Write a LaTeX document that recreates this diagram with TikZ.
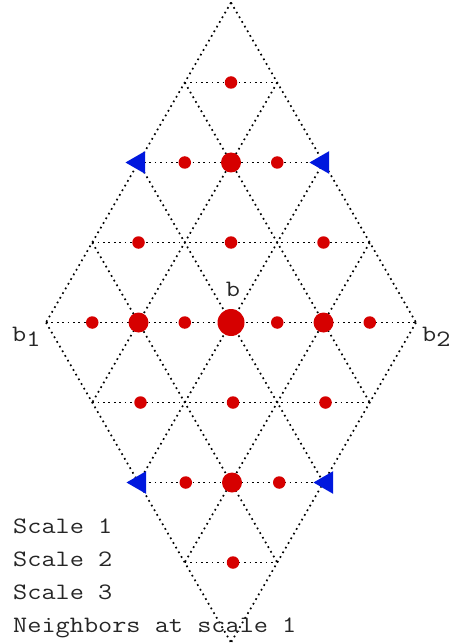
\documentclass[tikz,border=0pt]{standalone}
\usepackage{fontspec}
\newfontfamily\courlike[FakeStretch=1.17]{Latin Modern Mono}
\usetikzlibrary{calc,shapes.geometric}
\definecolor{dotred}{RGB}{214,0,0}
\definecolor{triblue}{RGB}{0,24,222}
\tikzset{
  grid/.style={draw=black, line width=1.7pt, dash pattern=on 1.7pt off 3.7pt},
  small/.style={circle, fill=dotred, inner sep=0pt, minimum size=12.5pt},
  medium/.style={circle, fill=dotred, inner sep=0pt, minimum size=20pt},
  large/.style={circle, fill=dotred, inner sep=0pt, minimum size=27pt},
  nb/.style={isosceles triangle, isosceles triangle apex angle=60, fill=triblue, inner sep=0pt, minimum height=19.5pt, shape border rotate=180},
  lbl/.style={font=\courlike\fontsize{23.5pt}{28pt}\selectfont, text=black!85, inner sep=0pt},
  legend/.style={lbl, anchor=base west}
}
\begin{document}
\begin{tikzpicture}[x=1pt,y=-1pt]
\useasboundingbox (0,0) rectangle (449,644);
\def\cx{231}
\def\cy{322.5}
\def\hw{46.25}
\def\rh{80}
% grid lines: diagonals
\foreach \k in {0,...,4}{
  \coordinate (dlA-\k) at ({\cx+\hw*\k},{\cy-4*\rh+\rh*\k});
  \coordinate (dlB-\k) at ({\cx+\hw*\k-4*\hw},{\cy+\rh*\k});
  \coordinate (drA-\k) at ({\cx-\hw*\k},{\cy-4*\rh+\rh*\k});
  \coordinate (drB-\k) at ({\cx-\hw*\k+4*\hw},{\cy+\rh*\k});
  \draw[grid] (dlA-\k) -- (dlB-\k);
  \draw[grid] (drA-\k) -- (drB-\k);
}
% horizontal lines
\foreach \k/\m in {1/1,2/2,3/3,4/4,5/3,6/2,7/1}{
  \coordinate (hL-\k) at ({\cx-\hw*\m},{\cy-4*\rh+\rh*\k});
  \coordinate (hR-\k) at ({\cx+\hw*\m},{\cy-4*\rh+\rh*\k});
  \draw[grid] (hL-\k) -- (hR-\k);
}
% dots
\node[small] (r1) at (\cx,{\cy-3*\rh}) {};
\node[small] (r2a) at ({\cx-\hw},{\cy-2*\rh}) {};
\node[medium] (r2b) at (\cx,{\cy-2*\rh}) {};
\node[small] (r2c) at ({\cx+\hw},{\cy-2*\rh}) {};
\node[small] (r3a) at ({\cx-2*\hw},{\cy-\rh}) {};
\node[small] (r3b) at (\cx,{\cy-\rh}) {};
\node[small] (r3c) at ({\cx+2*\hw},{\cy-\rh}) {};
\node[small] (r4a) at ({\cx-3*\hw},\cy) {};
\node[medium] (r4b) at ({\cx-2*\hw},\cy) {};
\node[small] (r4c) at ({\cx-\hw},\cy) {};
\node[large] (r4d) at (\cx,\cy) {};
\node[small] (r4e) at ({\cx+\hw},\cy) {};
\node[medium] (r4f) at ({\cx+2*\hw},\cy) {};
\node[small] (r4g) at ({\cx+3*\hw},\cy) {};
\node[small] (r5a) at ({\cx-2*\hw+2},{\cy+\rh}) {};
\node[small] (r5b) at ({\cx+2},{\cy+\rh}) {};
\node[small] (r5c) at ({\cx+2*\hw+2},{\cy+\rh}) {};
\node[small] (r6a) at ({\cx-\hw+1},{\cy+2*\rh}) {};
\node[medium] (r6b) at ({\cx+1},{\cy+2*\rh}) {};
\node[small] (r6c) at ({\cx+\hw+2},{\cy+2*\rh}) {};
\node[small] (r7) at ({\cx+2},{\cy+3*\rh}) {};
% neighbours
\node[nb] (n1) at ({\cx-2*\hw},{\cy-2*\rh}) {};
\node[nb] (n2) at ({\cx+2*\hw-1},{\cy-2*\rh}) {};
\node[nb] (n3) at ({\cx-2*\hw+1},{\cy+2*\rh}) {};
\node[nb] (n4) at ({\cx+2*\hw+3},{\cy+2*\rh}) {};
% labels
\node[lbl] (lb) at (233,289) {b};
\node[lbl, anchor=base west] (lb1) at (12,341) {b\raisebox{-5pt}{1}};
\node[lbl, anchor=base west] (lb2) at (422,341) {b\raisebox{-5pt}{2}};
% legend
\node[legend] (s1) at (13,533) {Scale 1};
\node[legend] (s2) at (13,566) {Scale 2};
\node[legend] (s3) at (13,599) {Scale 3};
\node[legend] (s4) at (13,632) {Neighbors at scale 1};
\end{tikzpicture}
\end{document}
